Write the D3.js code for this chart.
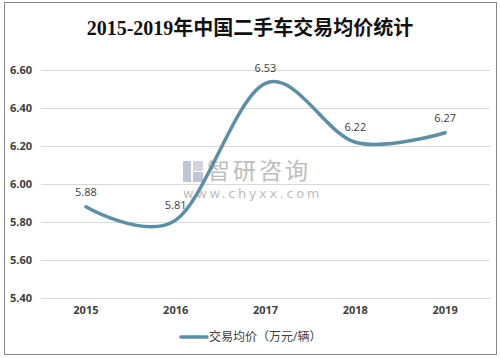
<!DOCTYPE html>
<html><head><meta charset="utf-8">
<script src="https://cdn.jsdelivr.net/npm/d3@7"></script>
<style>body{margin:0;background:#fff}svg{display:block}</style>
</head><body>
<script>
const categories = ["2015","2016","2017","2018","2019"];
const values = [5.88, 5.81, 6.53, 6.22, 6.27];
const yTicks = [5.40, 5.60, 5.80, 6.00, 6.20, 6.40, 6.60];
const title = "2015-2019年中国二手车交易均价统计";
const seriesName = "交易均价（万元/辆）";

const W = 501, H = 358;
const svg = d3.select("body").append("svg").attr("width", W).attr("height", H);
svg.append("rect").attr("x", 4.5).attr("y", 2.5).attr("width", 492).attr("height", 352)
  .attr("fill", "#fff").attr("stroke", "#888").attr("stroke-width", 1);

const x = d3.scaleBand().domain(categories).range([41, 490]);
const y = d3.scaleLinear().domain([5.4, 6.6]).range([298, 70]);
const sans = "'Open Sans','Noto Sans CJK SC',sans-serif";

svg.append("text").attr("x", 250).attr("y", 35).attr("text-anchor", "middle")
  .attr("font-family", "'Liberation Serif','Noto Sans CJK SC',serif").attr("font-weight", "bold")
  .attr("font-size", 20).attr("fill", "#111").text(title);

// gridlines
svg.append("g").selectAll("line").data(yTicks).join("line")
  .attr("x1", 41).attr("x2", 490).attr("y1", d => Math.round(y(d)) + 0.5).attr("y2", d => Math.round(y(d)) + 0.5)
  .attr("stroke", "#d9d9d9").attr("stroke-width", 1);

// y axis labels
const ya = svg.append("g").attr("transform", "translate(32,0)")
  .call(d3.axisLeft(y).tickValues(yTicks).tickFormat(d3.format(".2f")).tickSize(0).tickPadding(0));
ya.select(".domain").remove();
ya.selectAll("text").attr("font-family", sans).attr("font-size", 11).attr("font-weight", "bold").attr("fill", "#404040");

// x axis labels
const xa = svg.append("g").attr("transform", "translate(0,306)")
  .call(d3.axisBottom(x).tickSize(0).tickPadding(0));
xa.select(".domain").remove();
xa.selectAll("text").attr("font-family", sans).attr("font-size", 11).attr("font-weight", "bold").attr("fill", "#404040");

// watermark
const wm = svg.append("g").attr("opacity", 0.55);
wm.append("rect").attr("x", 183).attr("y", 161).attr("width", 8).attr("height", 21).attr("fill", "#8a9ab8");
wm.append("rect").attr("x", 193).attr("y", 161).attr("width", 10).attr("height", 10).attr("fill", "#b0b0c0");
wm.append("rect").attr("x", 193).attr("y", 172).attr("width", 10).attr("height", 10).attr("fill", "#8a9ab8");
wm.append("text").attr("x", 207).attr("y", 179).attr("font-family", sans).attr("font-size", 23)
  .attr("fill", "#888").attr("letter-spacing", 3).text("智研咨询");
wm.append("text").attr("x", 183).attr("y", 198).attr("font-family", "'DejaVu Sans',sans-serif").attr("font-size", 13)
  .attr("fill", "#888").attr("letter-spacing", 2.6).text("www.chyxx.com");

// line
const cx = d => x(d) + x.bandwidth() / 2;
const line = d3.line().x((d, i) => cx(categories[i])).y(d => y(d)).curve(d3.curveCardinal.tension(0));
svg.append("path").datum(values).attr("d", line).attr("fill", "none")
  .attr("stroke", "#5b8fa6").attr("stroke-width", 3.5).attr("stroke-linecap", "round");

// data labels
svg.append("g").selectAll("text").data(values).join("text")
  .attr("x", (d, i) => cx(categories[i])).attr("y", d => y(d) - 11)
  .attr("text-anchor", "middle").attr("font-family", sans).attr("font-size", 11).attr("fill", "#404040")
  .text(d => d.toFixed(2));

// legend
svg.append("line").attr("x1", 181).attr("x2", 207).attr("y1", 337).attr("y2", 337)
  .attr("stroke", "#5b8fa6").attr("stroke-width", 3.5).attr("stroke-linecap", "round");
svg.append("text").attr("x", 209).attr("y", 341).attr("font-family", sans).attr("font-size", 12)
  .attr("fill", "#404040").text(seriesName);
</script>
</body></html>
